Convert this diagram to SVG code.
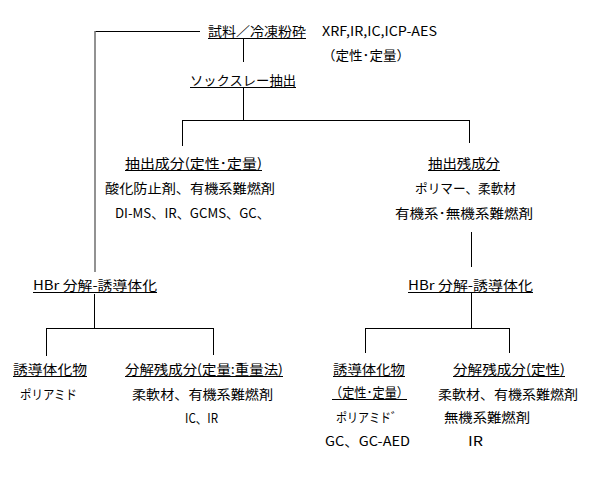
<svg xmlns="http://www.w3.org/2000/svg" width="593" height="477" viewBox="0 0 593 477">
<style>
text{font-family:"Noto Sans CJK JP","Liberation Sans",sans-serif;font-size:13px;fill:#000}
.c{stroke:#000;stroke-width:1;fill:none}
.g{stroke:#777;stroke-width:1.6;fill:none}
.ul{stroke:#000;stroke-width:1}
</style>
<rect width="593" height="477" fill="#fff"/>
<g id="connectors">
<path class="c" d="M95,31.5H200"/>
<path class="g" d="M95,31V272"/>
<path class="c" d="M243.5,39V62M243.5,88V120"/>
<path class="c" d="M182,120.5H470M182.5,120V146M469.5,120V143"/>
<path class="c" d="M471.5,232V267M471.5,292V328"/>
<path class="c" d="M365,328.5H510M365.5,328V353M509.5,328V353"/>
<path class="c" d="M94.5,294V329M46,328.5H214M46.5,328V356M213.5,328V355"/>
</g>
<g id="sample">
<text x="208" y="36" textLength="98" lengthAdjust="spacingAndGlyphs">試料／冷凍粉砕</text>
<line class="ul" x1="208" y1="38.5" x2="306" y2="38.5"/>
</g>
<g id="sample-analysis">
<text x="322" y="36" textLength="115" lengthAdjust="spacingAndGlyphs">XRF,IR,IC,ICP-AES</text>
<text x="322" y="60" textLength="88" lengthAdjust="spacingAndGlyphs">（定性･定量）</text>
</g>
<g id="soxhlet">
<text x="190" y="85" textLength="106" lengthAdjust="spacingAndGlyphs">ソックスレー抽出</text>
<line class="ul" x1="190" y1="87.5" x2="296" y2="87.5"/>
</g>
<g id="extract">
<text x="125" y="168" textLength="137" lengthAdjust="spacingAndGlyphs">抽出成分(定性･定量)</text>
<line class="ul" x1="125" y1="170.5" x2="262" y2="170.5"/>
<text x="105" y="193" textLength="170" lengthAdjust="spacingAndGlyphs">酸化防止剤、有機系難燃剤</text>
<text x="115" y="218" textLength="155" lengthAdjust="spacingAndGlyphs">DI-MS、IR、GCMS、GC、</text>
</g>
<g id="residue">
<text x="428" y="168" textLength="72" lengthAdjust="spacingAndGlyphs">抽出残成分</text>
<line class="ul" x1="428" y1="170.5" x2="500" y2="170.5"/>
<text x="415" y="193" textLength="101" lengthAdjust="spacingAndGlyphs">ポリマー、柔軟材</text>
<text x="395" y="218" textLength="138" lengthAdjust="spacingAndGlyphs">有機系･無機系難燃剤</text>
</g>
<g id="hbr-left">
<text x="33" y="290" textLength="124" lengthAdjust="spacingAndGlyphs">HBr 分解-誘導体化</text>
<line class="ul" x1="33" y1="292.5" x2="157" y2="292.5"/>
</g>
<g id="hbr-right">
<text x="408" y="290" textLength="125" lengthAdjust="spacingAndGlyphs">HBr 分解-誘導体化</text>
<line class="ul" x1="408" y1="292.5" x2="533" y2="292.5"/>
</g>
<g id="deriv-left">
<text x="13" y="374" textLength="74" lengthAdjust="spacingAndGlyphs">誘導体化物</text>
<line class="ul" x1="13" y1="376.5" x2="87" y2="376.5"/>
<text x="20" y="399" textLength="57" lengthAdjust="spacingAndGlyphs">ポリアミド</text>
</g>
<g id="decomp-left">
<text x="125" y="374" textLength="158" lengthAdjust="spacingAndGlyphs">分解残成分(定量:重量法)</text>
<line class="ul" x1="125" y1="376.5" x2="283" y2="376.5"/>
<text x="132" y="399" textLength="141" lengthAdjust="spacingAndGlyphs">柔軟材、有機系難燃剤</text>
<text x="185" y="423" textLength="33" lengthAdjust="spacingAndGlyphs">IC、IR</text>
</g>
<g id="deriv-right">
<text x="333" y="374" textLength="72" lengthAdjust="spacingAndGlyphs">誘導体化物</text>
<line class="ul" x1="333" y1="376.5" x2="405" y2="376.5"/>
<text x="330" y="397" textLength="79" lengthAdjust="spacingAndGlyphs">（定性･定量）</text>
<line class="ul" x1="332" y1="399.5" x2="407" y2="399.5"/>
<text x="336" y="422" textLength="66" lengthAdjust="spacingAndGlyphs">ポリアミド゛</text>
<text x="325" y="446" textLength="85" lengthAdjust="spacingAndGlyphs">GC、GC-AED</text>
</g>
<g id="decomp-right">
<text x="453" y="374" textLength="112" lengthAdjust="spacingAndGlyphs">分解残成分(定性)</text>
<line class="ul" x1="453" y1="376.5" x2="565" y2="376.5"/>
<text x="438" y="399" textLength="140" lengthAdjust="spacingAndGlyphs">柔軟材、有機系難燃剤</text>
<text x="444" y="422" textLength="86" lengthAdjust="spacingAndGlyphs">無機系難燃剤</text>
<text x="468" y="446" textLength="15" lengthAdjust="spacingAndGlyphs">IR</text>
</g>
</svg>
